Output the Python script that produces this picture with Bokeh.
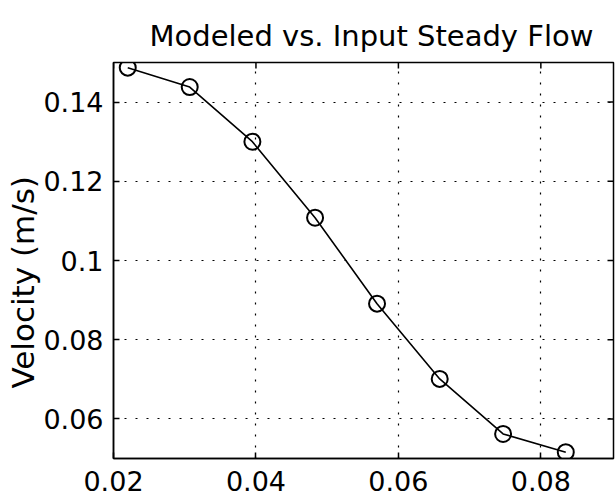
import math
from bokeh.plotting import figure
from bokeh.models import Range1d, FixedTicker, Title
from bokeh.embed import file_html
from bokeh.resources import INLINE

# ---- data ----
diameter = [0.0220, 0.0307, 0.0395, 0.0483, 0.0570, 0.0658, 0.0747, 0.0835]
velocity = [0.1487, 0.1438, 0.1300, 0.1108, 0.0891, 0.0701, 0.0562, 0.0516]
x_ticks = [0.02, 0.04, 0.06, 0.08]
x_tick_labels = ["0.02", "0.04", "0.06", "0.08"]
y_ticks = [0.06, 0.08, 0.10, 0.12, 0.14]
y_tick_labels = ["0.06", "0.08", "0.1", "0.12", "0.14"]
x_min, x_max = 0.02, 0.0902
y_min, y_max = 0.05, 0.15
title_text = "Modeled vs. Input Steady Flow"
y_label = "Velocity (m/s)"

FONT = "DejaVu Sans"

p = figure(width=616, height=502, output_backend="svg", toolbar_location=None,
           x_range=Range1d(x_min, x_max), y_range=Range1d(y_min, y_max),
           min_border_left=113, min_border_right=3, min_border_top=62,
           min_border_bottom=44, background_fill_color="white",
           border_fill_color="white")

p.outline_line_color = "black"
p.outline_line_width = 1.5

for ax in [p.xaxis[0], p.yaxis[0]]:
    ax.major_tick_in = 6
    ax.major_tick_out = 0
    ax.minor_tick_in = 0
    ax.minor_tick_out = 0
    ax.axis_line_color = "black"
    ax.axis_line_width = 1.5
    ax.major_tick_line_color = "black"
    ax.major_tick_line_width = 1.5
    ax.major_label_text_font = FONT
    ax.major_label_text_color = "black"
    ax.major_label_text_font_size = "27px"
    ax.major_label_standoff = 10
p.xaxis[0].major_label_standoff = 12

p.xaxis[0].ticker = FixedTicker(ticks=x_ticks)
p.xaxis[0].major_label_overrides = {v: s for v, s in zip(x_ticks, x_tick_labels)}
p.yaxis[0].ticker = FixedTicker(ticks=y_ticks)
p.yaxis[0].major_label_overrides = {v: s for v, s in zip(y_ticks, y_tick_labels)}

t = Title(text=title_text, align="left", offset=36, vertical_align="top",
          text_font=FONT, text_font_size="29px", text_font_style="normal",
          text_color="black", standoff=16)
p.add_layout(t, "above")

ylab = Title(text=y_label, align="left", offset=70, text_font=FONT,
             text_font_size="31px", text_font_style="normal", text_color="black",
             standoff=0)
p.add_layout(ylab, "left")

p.xgrid.ticker = FixedTicker(ticks=x_ticks)
p.ygrid.ticker = FixedTicker(ticks=y_ticks)
for g in [p.xgrid[0], p.ygrid[0]]:
    g.grid_line_color = "black"
    g.grid_line_dash = "2 9"
    g.grid_line_width = 1.2

# inward ticks on the right and top edges of the box (clipped to the frame)
p.scatter([x_max] * len(y_ticks), y_ticks, marker="dash", size=12,
          line_color="black", line_width=1.5)
p.scatter(x_ticks, [y_max] * len(x_ticks), marker="dash", size=12, angle=math.pi / 2,
          line_color="black", line_width=1.5)

p.line(diameter, velocity, line_color="black", line_width=1.6)
p.scatter(diameter, velocity, marker="circle", size=16, fill_color=None,
          line_color="black", line_width=2)

open("out.html", "w").write(file_html(p, INLINE))
